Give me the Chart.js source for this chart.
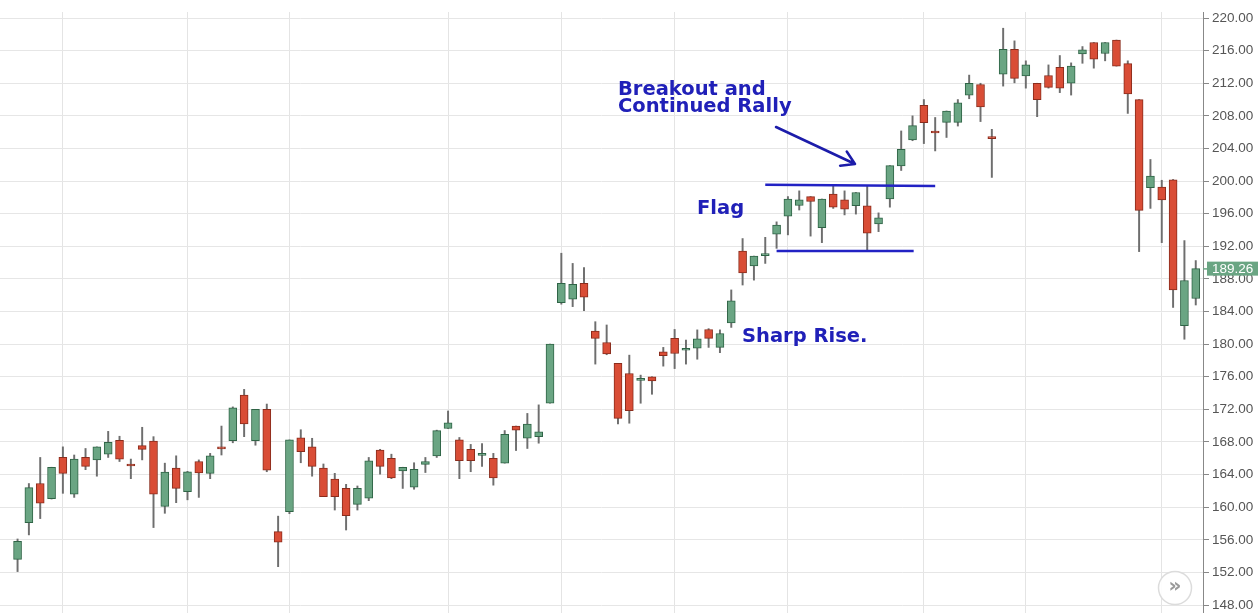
<!DOCTYPE html>
<html><head><meta charset="utf-8">
<script src="https://cdn.jsdelivr.net/npm/chart.js@4.4.0/dist/chart.umd.min.js"></script>
<style>html,body{margin:0;padding:0;background:#fff;overflow:hidden}#wrap{width:1258px;height:613px;position:relative}</style>
</head><body><div id="wrap"><canvas id="c" width="1258" height="613"></canvas></div>
<script>
// ---- data (one entry per trading day) ----
const opens  = [153.6,158.1,162.9,161.05,166.1,161.6,166.1,165.8,166.5,168.2,165.15,167.55,168.1,160.1,164.8,161.9,165.6,164.15,167.25,168.15,173.75,168.15,172.0,157.0,159.45,
  168.5,167.4,164.8,163.45,162.3,160.35,161.1,167.0,166.0,164.45,162.45,165.25,166.3,169.65,168.25,167.1,166.35,166.0,165.4,169.95,168.45,168.65,172.75,185.1,185.5,
  187.45,181.6,180.2,177.65,176.4,175.55,176.0,179.05,180.7,179.25,179.5,181.8,179.6,182.6,191.4,189.6,190.85,193.5,195.7,197.0,198.1,194.3,198.4,197.7,196.98,
  196.95,194.75,197.8,201.85,205.05,209.3,206.0,207.2,207.2,210.55,211.85,205.3,213.1,216.15,212.9,212.0,212.95,213.95,212.0,215.6,217.0,215.65,217.3,214.4,210.0,
  199.2,199.25,200.15,182.25,185.6];
const highs  = [156.1,162.9,166.1,164.9,167.4,166.4,167.2,167.4,169.3,168.7,165.9,169.8,168.65,165.4,166.3,164.4,165.8,166.6,169.95,172.3,174.45,172.0,172.65,158.9,168.25,
  169.5,168.45,165.3,164.15,162.8,162.6,166.1,167.1,166.5,164.9,165.45,166.1,169.45,171.8,168.55,167.7,167.8,166.6,169.4,169.95,171.5,172.55,180.0,191.15,189.9,
  189.4,182.75,182.35,177.65,178.65,176.2,176.0,179.6,181.8,180.5,181.75,181.9,181.75,186.65,192.95,190.8,193.1,195.0,198.1,198.8,198.1,197.8,199.4,198.8,198.6,
  199.4,196.1,201.9,206.15,208.0,210.0,207.8,208.6,210.0,213.0,212.0,206.35,218.75,217.2,214.75,212.0,214.25,215.4,214.5,216.5,217.0,217.0,217.3,214.75,210.0,
  202.65,200.1,200.2,192.7,190.25];
const lows   = [152.1,156.6,158.6,161.0,161.7,161.2,164.6,163.8,166.1,165.6,163.5,165.8,157.5,159.25,160.55,160.9,161.2,163.5,166.4,167.9,168.65,167.6,164.35,152.7,159.2,
  165.45,163.8,161.3,159.65,157.2,159.65,160.8,164.05,163.5,162.3,162.2,164.25,166.1,169.65,163.5,164.35,165.0,162.7,165.4,166.95,167.2,167.85,172.75,184.9,184.6,
  184.1,177.55,178.7,170.2,170.3,172.75,173.85,177.3,177.0,177.55,178.15,179.6,178.95,182.05,187.25,187.85,189.9,191.75,193.4,196.45,193.25,192.45,196.65,195.85,195.95,
  191.35,193.8,196.8,201.3,204.95,204.6,203.7,205.35,206.75,210.1,207.3,200.45,211.65,212.05,211.4,207.9,211.4,210.85,210.55,214.45,213.85,214.75,214.1,208.3,191.35,
  196.65,192.45,184.5,180.6,184.8];
const closes = [155.8,162.4,160.5,164.9,164.15,165.9,165.0,167.4,167.95,165.9,165.05,167.1,161.6,164.3,162.3,164.35,164.2,166.3,167.15,172.2,170.2,172.0,164.55,155.7,168.25,
  166.8,165.0,161.3,161.3,158.95,162.3,165.7,165.0,163.6,164.9,164.65,165.6,169.4,170.35,165.7,165.7,166.45,163.6,168.95,169.45,170.2,169.25,180.0,187.45,187.35,
  185.75,180.7,178.8,170.9,171.85,175.65,175.5,178.6,178.85,179.35,180.65,180.7,181.3,185.3,188.75,190.8,190.95,194.6,197.8,197.7,197.5,197.8,196.8,196.55,198.6,
  193.6,195.5,201.9,203.9,206.8,207.15,205.9,208.6,209.6,212.0,209.1,205.2,216.15,212.6,214.25,210.0,211.5,211.4,214.1,216.1,214.95,217.0,214.1,210.7,196.4,
  200.6,197.7,186.65,187.8,189.26];

const yTickValues = [148,152,156,160,164,168,172,176,180,184,188,192,196,200,204,208,212,216,220];
const yTickLabels = ['148.00','152.00','156.00','160.00','164.00','168.00','172.00','176.00','180.00','184.00','188.00','192.00','196.00','200.00','204.00','208.00','212.00','216.00','220.00'];
const dateGridIdx = [4,15,24,38,48,58,68,80,89,101];

// flag channel (day index, price)
const flagTopLine    = [{x:66, y:199.55},{x:81, y:199.4}];
const flagBottomLine = [{x:67, y:191.42},{x:79.1, y:191.42}];

const lastPrice = closes[closes.length-1];

const UP_FILL='#6aa583', UP_EDGE='#2f6446', DN_FILL='#d94d36', DN_EDGE='#8a2c1c';
const isUp = i => closes[i] >= opens[i];

const annotations = {
  id:'annotations',
  afterDatasetsDraw(chart){
    const c = chart.ctx;
    c.save();
    c.fillStyle = '#2020b8';
    c.font = 'bold 19.5px "DejaVu Sans"';
    c.textBaseline = 'alphabetic';
    c.textAlign = 'left';
    c.fillText('Breakout and', 618, 95);
    c.fillText('Continued Rally', 618, 112);
    c.fillText('Flag', 697, 214);
    c.fillText('Sharp Rise.', 742, 342);
    // arrow
    c.strokeStyle = '#1c1caa';
    c.lineWidth = 2.5;
    c.lineCap = 'round';
    const x0=776,y0=127,x1=855,y1=164;
    const a = Math.atan2(y1-y0, x1-x0);
    c.beginPath(); c.moveTo(x0,y0); c.lineTo(x1,y1);
    const L=15, h=0.55;
    c.moveTo(x1,y1); c.lineTo(x1-L*Math.cos(a-h), y1-L*Math.sin(a-h));
    c.moveTo(x1,y1); c.lineTo(x1-L*Math.cos(a+h), y1-L*Math.sin(a+h));
    c.stroke();
    c.restore();
  },
  afterDraw(chart){
    const c = chart.ctx, ys = chart.scales.y, area = chart.chartArea;
    c.save();
    // last price tag
    const py = ys.getPixelForValue(lastPrice);
    c.fillStyle = UP_FILL;
    c.fillRect(area.right+4, py-7, chart.width-(area.right+4), 14);
    c.fillRect(area.right, py-0.5, 4, 1.5);
    c.fillStyle = '#ffffff';
    c.font = '13.5px "Liberation Sans"';
    c.textBaseline = 'middle';
    c.fillText(lastPrice.toFixed(2), area.right+9, py+0.5);
    // scroll button
    const bx = area.right-28, by = area.bottom-25;
    c.beginPath(); c.arc(bx, by, 16.5, 0, Math.PI*2);
    c.fillStyle='rgba(255,255,255,0.9)'; c.fill();
    c.strokeStyle='#dcdcdc'; c.lineWidth=1.5; c.stroke();
    c.fillStyle='#9a9a9a'; c.font='bold 20px "DejaVu Sans"'; c.textAlign='center';
    c.fillText('\u00bb', bx, by-1);
    c.restore();
  }
};

new Chart(document.getElementById('c'), {
  type:'bar',
  data:{
    datasets:[
      { type:'line', data:flagTopLine, borderColor:'#2222c4', borderWidth:2.5, pointRadius:0, order:0 },
      { type:'line', data:flagBottomLine, borderColor:'#2222c4', borderWidth:2.5, pointRadius:0, order:0 },
      { type:'bar', order:1, grouped:false, barThickness:8, minBarLength:2, borderWidth:1, borderSkipped:false,
        data: opens.map((o,i)=>({x:i, y:[o, closes[i]]})),
        backgroundColor: ctx => isUp(ctx.dataIndex) ? UP_FILL : DN_FILL,
        borderColor: ctx => isUp(ctx.dataIndex) ? UP_EDGE : DN_EDGE },
      { type:'bar', order:2, grouped:false, barThickness:1.3, borderWidth:0,
        data: lows.map((l,i)=>({x:i, y:[l, highs[i]]})),
        backgroundColor:'#6e6e6e' }
    ]
  },
  options:{
    responsive:false, animation:false, devicePixelRatio:1,
    layout:{padding:{top:12, left:0, right:0, bottom:0}},
    plugins:{legend:{display:false}, tooltip:{enabled:false}},
    scales:{
      x:{ type:'linear', min:-1.55, max:104.64, offset:false,
        afterBuildTicks: s => { s.ticks = dateGridIdx.map(v=>({value:v})); },
        afterFit: s => { s.height = 0; s.paddingLeft = 0; s.paddingRight = 0; },
        ticks:{display:false}, grid:{color:'#e4e4e4', drawTicks:false, offset:false}, border:{display:false} },
      y:{ position:'right', min:147.02, max:220.74,
        afterBuildTicks: s => { s.ticks = yTickValues.map(v=>({value:v})); },
        afterFit: s => { s.width = 55; s.paddingTop = 0; s.paddingBottom = 0; },
        ticks:{ callback: v => yTickLabels[yTickValues.indexOf(v)], color:'#555', font:{family:'Liberation Sans', size:13.5}, padding:3 },
        grid:{ color:'#e6e6e6', tickLength:6, tickColor:'#888' },
        border:{ display:true, color:'#888', width:1 } }
    }
  },
  plugins:[annotations]
});
</script></body></html>
